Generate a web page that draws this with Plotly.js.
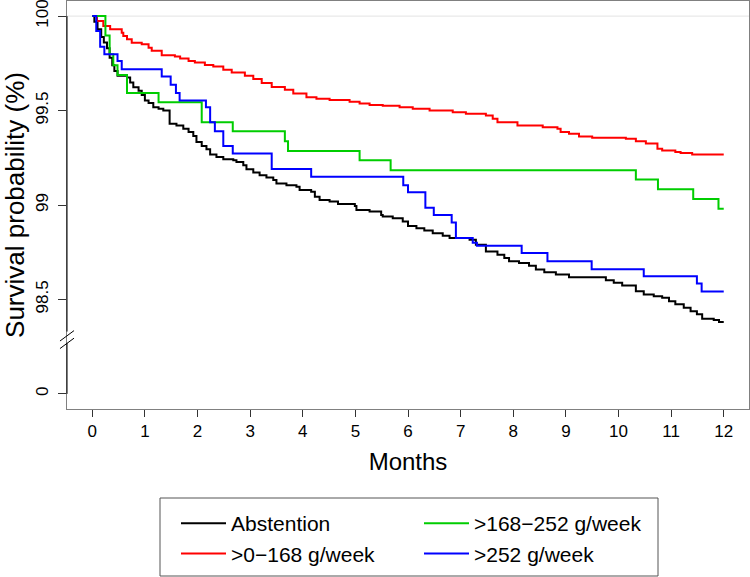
<!DOCTYPE html>
<html>
<head>
<meta charset="utf-8">
<script src="https://cdn.plot.ly/plotly-3.0.1.min.js"></script>
<style>html,body{margin:0;padding:0;background:#fff;}#chart{width:750px;height:577px;}</style>
</head>
<body>
<div id="chart"></div>
<script>
// Series names
const seriesNames = ["Abstention", ">0\u2212168 g/week", ">168\u2212252 g/week", ">252 g/week"];
const seriesColors = ["#000000", "#ff0000", "#00cd00", "#0000ff"];

// Abstention
const abstMonths = [0, 0.04, 0.10, 0.17, 0.22, 0.28, 0.33, 0.38, 0.42, 0.48, 0.66, 0.72, 0.78, 0.88, 0.94, 1.00, 1.07, 1.16, 1.26, 1.35, 1.47, 1.60, 1.73, 1.83, 1.92, 1.98, 2.08, 2.17, 2.24, 2.36, 2.49, 2.68, 2.74, 2.87, 2.93, 3.06, 3.18, 3.31, 3.44, 3.50, 3.69, 3.88, 3.94, 4.16, 4.23, 4.32, 4.51, 4.67, 4.99, 5.02, 5.27, 5.49, 5.52, 5.71, 5.90, 6.00, 6.16, 6.31, 6.47, 6.66, 6.79, 7.17, 7.29, 7.48, 7.70, 7.83, 7.92, 8.11, 8.30, 8.43, 8.59, 8.81, 9.06, 9.76, 9.91, 10.07, 10.33, 10.48, 10.67, 10.83, 10.96, 11.08, 11.24, 11.37, 11.49, 11.59, 11.81, 11.91, 12.00];
const abstSurv = [100, 99.97, 99.93, 99.89, 99.86, 99.83, 99.78, 99.74, 99.71, 99.684, 99.675, 99.649, 99.623, 99.605, 99.582, 99.553, 99.540, 99.518, 99.509, 99.500, 99.430, 99.421, 99.404, 99.386, 99.365, 99.333, 99.312, 99.295, 99.267, 99.254, 99.242, 99.237, 99.228, 99.210, 99.189, 99.172, 99.158, 99.146, 99.132, 99.114, 99.105, 99.096, 99.079, 99.070, 99.044, 99.026, 99.018, 99.005, 98.995, 98.974, 98.965, 98.947, 98.939, 98.930, 98.912, 98.889, 98.877, 98.865, 98.851, 98.837, 98.825, 98.816, 98.789, 98.754, 98.737, 98.720, 98.702, 98.693, 98.679, 98.658, 98.644, 98.632, 98.618, 98.602, 98.588, 98.574, 98.544, 98.526, 98.517, 98.509, 98.491, 98.474, 98.456, 98.438, 98.421, 98.398, 98.391, 98.380, 98.380];

// >0-168 g/week
const lowMonths = [0, 0.09, 0.21, 0.34, 0.56, 0.59, 0.66, 0.75, 0.94, 1.07, 1.13, 1.32, 1.57, 1.67, 1.83, 1.95, 2.14, 2.30, 2.49, 2.65, 2.90, 3.06, 3.22, 3.41, 3.66, 3.82, 4.07, 4.26, 4.51, 4.89, 5.08, 5.27, 5.52, 5.84, 6.09, 6.41, 6.85, 7.10, 7.48, 7.61, 7.70, 8.08, 8.56, 8.84, 8.90, 9.06, 9.25, 9.50, 10.14, 10.33, 10.52, 10.74, 10.83, 11.08, 11.18, 11.40, 12.00];
const lowSurv = [100, 99.974, 99.947, 99.930, 99.912, 99.895, 99.877, 99.859, 99.851, 99.833, 99.816, 99.793, 99.786, 99.775, 99.763, 99.754, 99.741, 99.733, 99.716, 99.702, 99.684, 99.667, 99.646, 99.625, 99.610, 99.590, 99.570, 99.562, 99.556, 99.547, 99.538, 99.530, 99.526, 99.517, 99.509, 99.500, 99.491, 99.483, 99.474, 99.456, 99.438, 99.421, 99.412, 99.404, 99.386, 99.377, 99.363, 99.356, 99.351, 99.338, 99.325, 99.298, 99.289, 99.281, 99.275, 99.268, 99.268];

// >168-252 g/week
const midMonths = [0, 0.25, 0.33, 0.40, 0.48, 0.66, 1.26, 2.08, 2.67, 3.66, 3.72, 5.08, 5.67, 10.33, 10.75, 11.42, 11.90, 12.00];
const midSurv = [100, 99.898, 99.798, 99.740, 99.688, 99.593, 99.544, 99.438, 99.390, 99.337, 99.286, 99.237, 99.184, 99.135, 99.083, 99.032, 98.980, 98.980];

// >252 g/week
const highMonths = [0, 0.076, 0.15, 0.23, 0.48, 0.56, 1.32, 1.49, 1.59, 1.66, 2.16, 2.24, 2.33, 2.49, 2.67, 3.41, 4.16, 5.91, 6.00, 6.33, 6.49, 6.83, 6.91, 7.23, 7.31, 8.16, 8.65, 9.49, 10.48, 11.49, 11.58, 12.00];
const highSurv = [100, 99.921, 99.838, 99.798, 99.763, 99.719, 99.680, 99.637, 99.593, 99.553, 99.518, 99.438, 99.390, 99.312, 99.272, 99.190, 99.149, 99.105, 99.067, 98.986, 98.947, 98.907, 98.825, 98.800, 98.784, 98.746, 98.702, 98.660, 98.623, 98.584, 98.542, 98.542];

// Axis ticks
const xTickVals = [0,1,2,3,4,5,6,7,8,9,10,11,12];
const yTickVals = [98, 98.5, 99, 99.5, 100];
const yTickText = ["0", "98.5", "99", "99.5", "100"];

const xs = [abstMonths, lowMonths, midMonths, highMonths];
const ys = [abstSurv, lowSurv, midSurv, highSurv];
const ranks = [1, 3, 2, 4];

const traces = seriesNames.map((n, i) => ({
  type: 'scatter', mode: 'lines', name: n,
  x: xs[i], y: ys[i],
  line: {shape: 'hv', color: seriesColors[i], width: 2},
  legendrank: ranks[i], hoverinfo: 'skip'
}));

const W = 682, H = 408, L = 67, T = 1;
const px = v => (v - L) / W;
const py = v => (T + H - v) / H;

const font = 'Liberation Sans, Arial, Helvetica, sans-serif';
const layout = {
  width: 750, height: 577,
  margin: {l: L, r: 1, t: T, b: 168},
  paper_bgcolor: '#fff', plot_bgcolor: '#fff',
  font: {family: font, color: '#000'},
  showlegend: true,
  xaxis: {
    range: [-0.48, 12.48], tickvals: xTickVals, ticktext: xTickVals.map(String),
    showgrid: false, zeroline: false, showline: true, linecolor: '#808080', linewidth: 1, mirror: true,
    ticks: 'outside', ticklen: 7, tickcolor: '#333', tickfont: {size: 17},
    title: {text: 'Months', font: {size: 24}, standoff: 12}, automargin: false
  },
  yaxis: {
    range: [97.92, 100.08], tickvals: yTickVals, ticktext: yTickText, tickangle: -90,
    ticklabeloverflow: 'allow', ticklabelstandoff: 3,
    showgrid: false, zeroline: false, showline: true, linecolor: '#808080', linewidth: 1, mirror: true,
    ticks: 'outside', ticklen: 8, tickcolor: '#333', tickfont: {size: 17},
    title: {text: 'Survival probability (%)', font: {size: 26}, standoff: 4}, automargin: false
  },
  legend: {
    orientation: 'h', x: px(176), xanchor: 'left', y: py(503), yanchor: 'top',
    borderwidth: 0, bgcolor: 'rgba(0,0,0,0)',
    font: {size: 21}, entrywidth: 183, itemwidth: 45, traceorder: 'normal'
  },
  shapes: [
    {type: 'line', xref: 'paper', x0: 0, x1: 1, yref: 'y', y0: 100, y1: 100, line: {color: '#e3e3e3', width: 1}, layer: 'below'},
    {type: 'line', xref: 'paper', x0: 0, x1: 0, yref: 'y', y0: 98.33, y1: 100.0, line: {color: '#000', width: 1}},
    {type: 'line', xref: 'paper', x0: 0, x1: 0, yref: 'y', y0: 98.0, y1: 98.27, line: {color: '#000', width: 1}},
    {type: 'line', xref: 'paper', x0: -0.0103, x1: 0.0103, yref: 'y', y0: 98.28, y1: 98.335, line: {color: '#000', width: 1}},
    {type: 'line', xref: 'paper', x0: -0.0103, x1: 0.0103, yref: 'y', y0: 98.24, y1: 98.295, line: {color: '#000', width: 1}},
    {type: 'rect', xref: 'paper', yref: 'paper', x0: px(160), x1: px(658), y0: py(498), y1: py(576), line: {color: '#555', width: 1}, fillcolor: 'rgba(0,0,0,0)'}
  ]
};

Plotly.newPlot('chart', traces, layout, {displayModeBar: false, staticPlot: true});
</script>
</body>
</html>
